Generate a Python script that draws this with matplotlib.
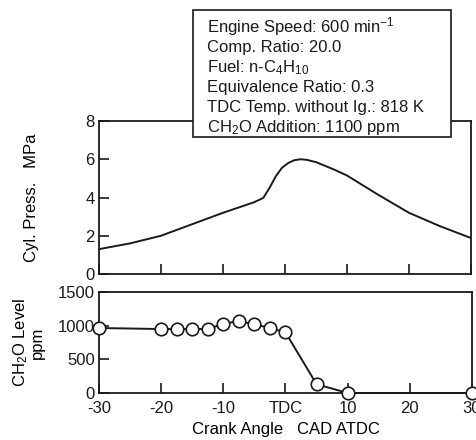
import matplotlib
matplotlib.use("Agg")
import matplotlib.pyplot as plt
from matplotlib.patches import Rectangle

plt.rcParams['font.family'] = ['Liberation Sans', 'DejaVu Sans']
plt.rcParams['mathtext.fontset'] = 'custom'
plt.rcParams['mathtext.rm'] = 'Liberation Sans'
plt.rcParams['mathtext.it'] = 'Liberation Sans:italic'
plt.rcParams['font.size'] = 12

# cylinder pressure (crank angle deg, MPa)
cad_p = [-30, -25, -20, -15, -10, -5, -3.5, -2.5, -1.5, -0.5, 0.5, 1.5, 2.5, 3.5, 5, 8, 10, 15, 20, 25, 30]
press = [1.3, 1.6, 2.0, 2.6, 3.2, 3.75, 3.98, 4.5, 5.1, 5.55, 5.8, 5.95, 6.0, 5.97, 5.85, 5.45, 5.15, 4.15, 3.2, 2.5, 1.88]

# CH2O level (ppm)
cad_c = [-30, -20, -17.5, -15, -12.5, -10, -7.5, -5, -2.5, 0, 5, 10, 30]
ch2o = [965, 950, 950, 950, 950, 1025, 1070, 1020, 965, 900, 130, 0, 0]

xticks = [-30, -20, -10, 0, 10, 20, 30]
xticklabels = ['-30', '-20', '-10', 'TDC', '10', '20', '30']

info = ["Engine Speed: 600 min$^{-1}$",
        "Comp. Ratio: 20.0",
        "Fuel: n-C$_4$H$_{10}$",
        "Equivalence Ratio: 0.3",
        "TDC Temp. without Ig.: 818 K",
        "CH$_2$O Addition: 1100 ppm"]

W, H = 477, 440
fig = plt.figure(figsize=(4.77, 4.4), dpi=100)
ax1 = fig.add_axes([99 / W, 1 - 274 / H, 372 / W, 153 / H])
ax2 = fig.add_axes([99 / W, 1 - 393 / H, 373 / W, 101 / H])

c = '#1a1a1a'

ax1.plot(cad_p, press, color=c, lw=1.4)
ax1.set_xlim(-30, 30)
ax1.set_ylim(0, 8)
ax1.set_xticks(xticks)
ax1.set_xticklabels([])
ax1.set_yticks([0, 2, 4, 6, 8])
ax1.set_ylabel("Cyl. Press.   MPa")
ax1.yaxis.set_label_coords(-0.161, 0.5)

ax2.plot(cad_c, ch2o, color=c, lw=1.4, marker='o', ms=9, mfc='white', mec=c, mew=1.2, clip_on=False, zorder=3)
ax2.set_xlim(-30, 30)
ax2.set_ylim(0, 1500)
ax2.set_xticks(xticks)
ax2.set_xticklabels(xticklabels)
ax2.set_yticks([0, 500, 1000, 1500])
ax2.set_xlabel("Crank Angle   CAD ATDC")
ax2.xaxis.set_label_coords(0.5, -0.287)
ax2.set_ylabel("CH$_2$O Level\nppm", linespacing=1.0)
ax2.yaxis.set_label_coords(-0.144, 0.5)

for ax in (ax1, ax2):
    ax.tick_params(direction='in', length=7, width=1.2, colors=c, labelsize=12, pad=3)
    for s in ax.spines.values():
        s.set_linewidth(1.3)
        s.set_color(c)
ax2.tick_params(axis='x', pad=6)

# condition box drawn over the top of the pressure panel
fig.patches.append(Rectangle((193 / W, 1 - 137 / H), 258 / W, 127 / H,
                             transform=fig.transFigure, fc='white', ec=c, lw=1.2, zorder=10))
for i, line in enumerate(info):
    fig.text(207 / W, 1 - (32 + 20 * i) / H, line, ha='left', va='baseline',
             fontsize=12, color=c, zorder=11)

fig.savefig("out.png", dpi=100)
